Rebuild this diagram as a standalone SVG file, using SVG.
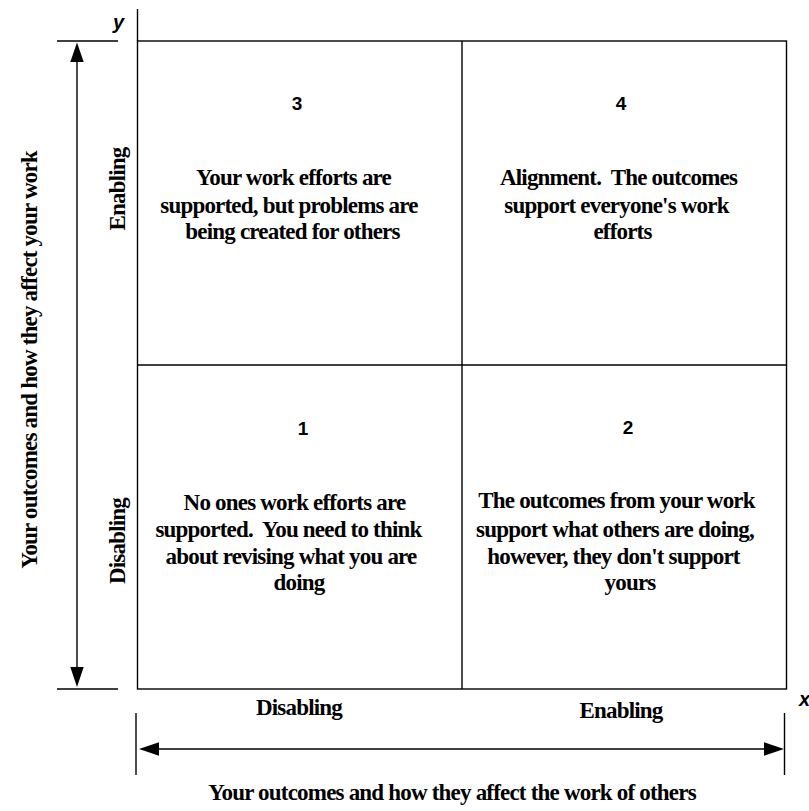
<svg xmlns="http://www.w3.org/2000/svg" width="809" height="811" viewBox="0 0 809 811">
<style>
.ln{stroke:#000;stroke-width:1.4;fill:none}
.t{font-family:"Liberation Serif","Times New Roman",serif;font-weight:bold;font-size:23px;letter-spacing:-0.8px;fill:#000;text-anchor:middle}
.n{font-family:"Liberation Sans",Arial,sans-serif;font-weight:bold;font-size:19px;fill:#000;text-anchor:middle}
.ax{font-family:"Liberation Sans",Arial,sans-serif;font-weight:bold;font-style:italic;font-size:20px;fill:#000}
.ah{fill:#000;stroke:none}
</style>
<rect width="809" height="811" fill="#fff"/>
<g id="grid">
<rect class="ln" x="137.5" y="41" width="649" height="648"/>
<line class="ln" x1="462" y1="41" x2="462" y2="689"/>
<line class="ln" x1="137.5" y1="365" x2="786.5" y2="365"/>
<line class="ln" x1="137.5" y1="9" x2="137.5" y2="41"/>
</g>
<g id="cell3">
<text class="n" x="297" y="110">3</text>
<text class="t" y="185"><tspan x="293.5">Your work efforts are</tspan><tspan x="289" y="213">supported, but problems are</tspan><tspan x="292.5" y="239">being created for others</tspan></text>
</g>
<g id="cell4">
<text class="n" x="621" y="110">4</text>
<text class="t" y="185" xml:space="preserve"><tspan x="618.5">Alignment.  The outcomes</tspan><tspan x="616.5" y="213">support everyone's work</tspan><tspan x="622.5" y="239">efforts</tspan></text>
</g>
<g id="cell1">
<text class="n" x="303" y="435">1</text>
<text class="t" y="510" xml:space="preserve"><tspan x="294.5">No ones work efforts are</tspan><tspan x="288.5" y="537">supported.  You need to think</tspan><tspan x="291" y="564">about revising what you are</tspan><tspan x="299" y="590">doing</tspan></text>
</g>
<g id="cell2">
<text class="n" x="628" y="434">2</text>
<text class="t" y="508"><tspan x="616.5">The outcomes from your work</tspan><tspan x="615" y="537">support what others are doing,</tspan><tspan x="613.5" y="564">however, they don't support</tspan><tspan x="630" y="590">yours</tspan></text>
</g>
<g id="labels">
<text class="ax" x="113" y="29">y</text>
<text class="ax" x="799" y="706">x</text>
<text class="t" transform="translate(125,189) rotate(-90)">Enabling</text>
<text class="t" transform="translate(125,541) rotate(-90)">Disabling</text>
<text class="t" transform="translate(37,360) rotate(-90)">Your outcomes and how they affect your work</text>
<text class="t" x="299" y="715">Disabling</text>
<text class="t" x="621" y="718">Enabling</text>
<text class="t" x="452" y="800">Your outcomes and how they affect the work of others</text>
</g>
<g id="connectors">
<line class="ln" x1="57" y1="41" x2="118" y2="41"/>
<line class="ln" x1="57" y1="689" x2="118" y2="689"/>
<line class="ln" x1="77" y1="60" x2="77" y2="669"/>
<polygon class="ah" points="77,42.5 70.3,62 83.7,62"/>
<polygon class="ah" points="77,687 70.3,667 83.7,667"/>
<line class="ln" x1="136" y1="713" x2="136" y2="775"/>
<line class="ln" x1="784.5" y1="713" x2="784.5" y2="775"/>
<line class="ln" x1="157" y1="749" x2="767" y2="749"/>
<polygon class="ah" points="139,749 159,742.3 159,755.7"/>
<polygon class="ah" points="784,749 764,742.3 764,755.7"/>
</g>
</svg>
